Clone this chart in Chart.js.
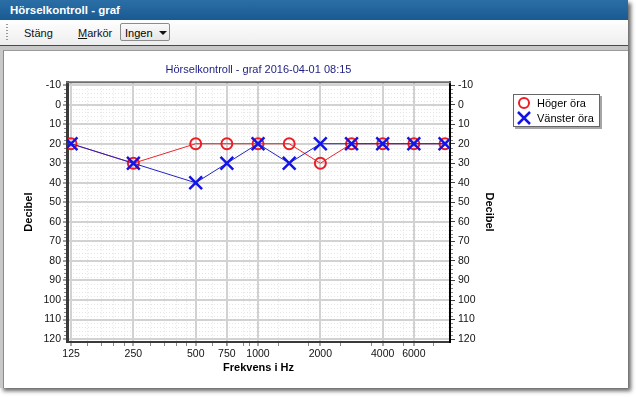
<!DOCTYPE html>
<html>
<head>
<meta charset="utf-8">
<title>Hörselkontroll - graf</title>
<script src="https://cdn.jsdelivr.net/npm/chart.js@4.4.1/dist/chart.umd.min.js"></script>
<style>
  html, body { margin: 0; padding: 0; width: 636px; height: 397px; overflow: hidden; background: #fff;
    font-family: "Liberation Sans", Arial, sans-serif; }
  #win { position: absolute; left: 0; top: 0; width: 628px; height: 388px; background: #c8c8c8;
    box-shadow: 3px 3px 4px rgba(0, 0, 0, 0.6); }
  #titlebar { position: absolute; left: 0; top: 0; width: 628px; height: 20px; box-sizing: border-box;
    padding-left: 10px; background: linear-gradient(#2b6ea6, #1a5a92); color: #fff;
    font-weight: bold; font-size: 11.5px; line-height: 20px; }
  #toolbar { position: absolute; left: 0; top: 20px; width: 628px; height: 25px;
    background: linear-gradient(#fefefe, #eeeeee); border-bottom: 1px solid #4a4a4a; font-size: 11px; }
  #grip { position: absolute; left: 6px; top: 4px; width: 2px; height: 17px;
    background: repeating-linear-gradient(#999 0 1px, transparent 1px 3px); }
  .tb { position: absolute; top: 7px; color: #111; }
  #combo { position: absolute; left: 120px; top: 3px; width: 50px; height: 18px; box-sizing: border-box;
    border: 1px solid #8c8c8c; border-radius: 2px; background: linear-gradient(#fafafa, #e6e6e6); }
  #combo span { position: absolute; left: 4px; top: 3px; }
  #combo i { position: absolute; left: 38px; top: 7px; width: 0; height: 0;
    border-left: 4px solid transparent; border-right: 4px solid transparent; border-top: 4px solid #111; }
  #panel { position: absolute; left: 3px; top: 50px; width: 625px; height: 338px; background: #fff;
    border-left: 1px solid #8a8a8a; border-top: 1px solid #9a9a9a; box-sizing: border-box; }
  #chart { position: absolute; left: 4px; top: 52px; }
</style>
</head>
<body>
<div id="win">
  <div id="titlebar">Hörselkontroll - graf</div>
  <div id="toolbar">
    <div id="grip"></div>
    <span class="tb" style="left:24px">Stäng</span>
    <span class="tb" style="left:78px"><u>M</u>arkör</span>
    <div id="combo"><span>Ingen</span><i></i></div>
  </div>
  <div id="panel"></div>
</div>
<canvas id="chart" width="623" height="335"></canvas>
<script>
// hearing test values (dB HL) per frequency
const freqs = [125, 250, 500, 750, 1000, 1500, 2000, 3000, 4000, 6000, 8000];
const hogerOra = [20, 30, 20, 20, 20, 20, 30, 20, 20, 20, 20];
const vansterOra = [20, 30, 40, 30, 20, 30, 20, 20, 20, 20, 20];

const freqLabels = [125, 250, 500, 750, 1000, 2000, 4000, 6000];
const dbTicks = [-10, 0, 10, 20, 30, 40, 50, 60, 70, 80, 90, 100, 110, 120];
const minorFreqs = [150, 175, 200, 225, 300, 350, 400, 450, 600, 700, 850, 900,
  1250, 1750, 2500, 3500, 5000, 7000];
const minorDb = [];
for (let d = -10; d <= 120; d += 2) if (d % 10 !== 0) minorDb.push(d);

// audiogram spacing: half octaves from 125 Hz (750/1500/3000/6000 sit midway)
function octPos(f) { return Math.round(2 * Math.log2(f / 125)); }
function logPos(f) { return 2 * Math.log2(f / 125); }

const toPoints = vals => vals.map((v, i) => ({ x: octPos(freqs[i]), y: v }));

const tickFont = { family: '"Liberation Sans", Arial, sans-serif', size: 10.5 };
const titleFont = { family: '"Liberation Sans", Arial, sans-serif', size: 11, weight: 'bold' };

const audioExtras = {
  id: 'audioExtras',
  beforeDraw(chart) {
    const { ctx, chartArea: a, scales } = chart;
    ctx.save();
    ctx.strokeStyle = '#e6e6e6';
    ctx.lineWidth = 1;
    ctx.setLineDash([1, 2]);
    minorDb.forEach(d => {
      const y = Math.round(scales.y.getPixelForValue(d)) + 0.5;
      ctx.beginPath(); ctx.moveTo(a.left, y); ctx.lineTo(a.right, y); ctx.stroke();
    });
    minorFreqs.forEach(f => {
      const x = Math.round(scales.x.getPixelForValue(logPos(f))) + 0.5;
      ctx.beginPath(); ctx.moveTo(x, a.top); ctx.lineTo(x, a.bottom); ctx.stroke();
    });
    ctx.restore();
  },
  afterDraw(chart) {
    const { ctx, chartArea: a, scales } = chart;
    ctx.save();
    // top frame
    ctx.strokeStyle = '#6e6e6e';
    ctx.lineWidth = 2;
    ctx.beginPath(); ctx.moveTo(a.left - 1, a.top); ctx.lineTo(a.right + 1, a.top); ctx.stroke();
    // minor ticks on axes
    ctx.strokeStyle = '#888';
    ctx.lineWidth = 1;
    minorDb.forEach(d => {
      const y = Math.round(scales.y.getPixelForValue(d)) + 0.5;
      ctx.beginPath(); ctx.moveTo(a.left - 3, y); ctx.lineTo(a.left - 1, y); ctx.stroke();
      ctx.beginPath(); ctx.moveTo(a.right + 1, y); ctx.lineTo(a.right + 3, y); ctx.stroke();
    });
    minorFreqs.forEach(f => {
      const x = Math.round(scales.x.getPixelForValue(logPos(f))) + 0.5;
      ctx.beginPath(); ctx.moveTo(x, a.bottom + 1); ctx.lineTo(x, a.bottom + 4); ctx.stroke();
    });

    // legend box
    const lx = a.right + 63, ly = 42, lw = 87, lh = 33;
    ctx.fillStyle = 'rgba(0,0,0,0.35)';
    ctx.fillRect(lx + 2, ly + 2, lw, lh);
    ctx.fillStyle = '#fff';
    ctx.fillRect(lx, ly, lw, lh);
    ctx.strokeStyle = '#666';
    ctx.strokeRect(lx + 0.5, ly + 0.5, lw - 1, lh - 1);
    ctx.font = '11px "Liberation Sans", Arial, sans-serif';
    ctx.textBaseline = 'middle';
    chart.data.datasets.forEach((ds, i) => {
      const cx = lx + 11, cy = ly + 9 + i * 15;
      ctx.strokeStyle = ds.pointBorderColor;
      ctx.lineWidth = ds.pointBorderWidth;
      ctx.beginPath();
      if (ds.pointStyle === 'circle') {
        ctx.arc(cx, cy, 5, 0, Math.PI * 2);
      } else {
        ctx.moveTo(cx - 6, cy - 6); ctx.lineTo(cx + 6, cy + 6);
        ctx.moveTo(cx + 6, cy - 6); ctx.lineTo(cx - 6, cy + 6);
      }
      ctx.stroke();
      ctx.fillStyle = '#000';
      ctx.fillText(ds.label, lx + 24, cy + 1);
    });
    ctx.restore();
  }
};

const yBase = {
  type: 'linear',
  reverse: true,
  min: -11.5,
  max: 121.5,
  afterBuildTicks: s => { s.ticks = dbTicks.map(v => ({ value: v })); },
  ticks: { font: tickFont, color: '#111', padding: 2 },
  title: { display: true, text: 'Decibel', font: titleFont, color: '#000' }
};

new Chart(document.getElementById('chart'), {
  type: 'line',
  data: {
    datasets: [{
      label: 'Höger öra',
      data: toPoints(hogerOra),
      borderColor: '#e8282c',
      borderWidth: 1,
      pointStyle: 'circle',
      pointRadius: 5.5,
      pointBorderWidth: 2,
      pointBorderColor: '#ee1c24',
      pointBackgroundColor: 'rgba(0,0,0,0)',
      order: 2
    }, {
      label: 'Vänster öra',
      data: toPoints(vansterOra),
      borderColor: '#2323c8',
      borderWidth: 1,
      pointStyle: 'crossRot',
      pointRadius: 9,
      pointBorderWidth: 2.5,
      pointBorderColor: '#1414e6',
      order: 1
    }]
  },
  options: {
    responsive: false,
    animation: false,
    devicePixelRatio: 1,
    layout: { padding: { left: 0, right: 127, top: 0, bottom: 0 } },
    plugins: {
      legend: { display: false },
      tooltip: { enabled: false },
      title: {
        display: true,
        fullSize: false,
        text: 'Hörselkontroll - graf 2016-04-01 08:15',
        color: '#1e1e82',
        font: { family: '"Liberation Sans", Arial, sans-serif', size: 11, weight: 'normal' },
        padding: { top: 11, bottom: 6 }
      }
    },
    scales: {
      x: {
        type: 'linear',
        min: -0.13,
        max: 12.16,
        afterBuildTicks: s => { s.ticks = freqLabels.map(f => ({ value: octPos(f) })); },
        afterFit: s => { s.height = 45; },
        ticks: {
          font: tickFont, color: '#111', padding: 2, autoSkip: false, maxRotation: 0,
          callback: v => String(freqLabels.find(f => octPos(f) === v))
        },
        grid: { color: '#d2d2d2', lineWidth: 2, tickLength: 4, tickColor: '#555', tickWidth: 1 },
        border: { color: '#3a3a3a', width: 2 },
        title: { display: true, text: 'Frekvens i Hz', font: titleFont, color: '#000', padding: 12 }
      },
      y: Object.assign({}, yBase, {
        position: 'left',
        afterFit: s => { s.width = 63; },
        grid: { color: '#d2d2d2', lineWidth: 2, tickLength: 4, tickColor: '#444', tickWidth: 1 },
        border: { color: '#3a3a3a', width: 3 },
        title: Object.assign({}, yBase.title, { padding: 18 })
      }),
      y2: Object.assign({}, yBase, {
        position: 'right',
        afterFit: s => { s.width = 50; },
        ticks: Object.assign({}, yBase.ticks, { padding: 3 }),
        grid: { drawOnChartArea: false, tickLength: 5, tickColor: '#444', tickWidth: 1 },
        border: { color: '#000', width: 2 },
        title: Object.assign({}, yBase.title, { padding: 4 })
      })
    }
  },
  plugins: [audioExtras]
});
</script>
</body>
</html>
